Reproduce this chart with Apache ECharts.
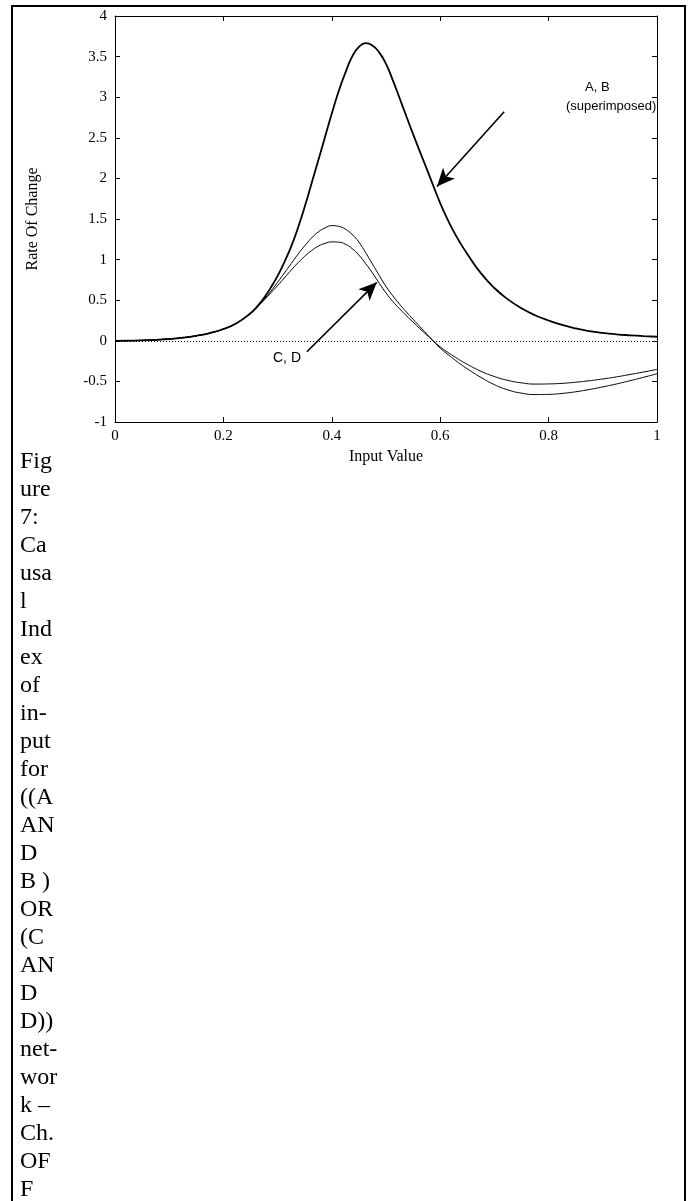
<!doctype html>
<html>
<head>
<meta charset="utf-8">
<title>Causal Index of input</title>
<script src="https://cdn.jsdelivr.net/npm/echarts@6/dist/echarts.min.js"></script>
<style>
  body { margin: 0; background: #fff; }
  #frame { position: absolute; left: 11px; top: 5px; width: 671px; height: 1300px;
           border: 2px solid #000; border-bottom: none; }
  #myChart { position: absolute; left: 0; top: 0; width: 690px; height: 480px; }
  #caption { position: absolute; left: 20px; top: 446px;
             font-family: "Liberation Serif", "Times New Roman", Times, serif;
             font-size: 24px; line-height: 28px; color: #000; }
</style>
</head>
<body>
<div id="frame"></div>
<div id="myChart"></div>
<div id="caption">Fig<br>ure<br>7:<br>Ca<br>usa<br>l<br>Ind<br>ex<br>of<br>in-<br>put<br>for<br>((A<br>AN<br>D<br>B )<br>OR<br>(C<br>AN<br>D<br>D))<br>net-<br>wor<br>k –<br>Ch.<br>OF<br>F</div>
<script>
// input values (x): coarse on the tails, finer through the peaks
var inputValues = [0, 0.025, 0.05, 0.075, 0.1, 0.125, 0.15, 0.175, 0.2, 0.225, 0.25,
  0.2625, 0.275, 0.2875, 0.3, 0.3125, 0.325, 0.3375, 0.35, 0.3625, 0.375,
  0.3875, 0.4, 0.4125, 0.425, 0.4375, 0.45, 0.4625, 0.475, 0.4875, 0.5,
  0.5125, 0.525, 0.5375, 0.55, 0.5625, 0.575, 0.5875, 0.6, 0.6125, 0.625,
  0.6375, 0.65, 0.675, 0.7, 0.725, 0.75, 0.775, 0.8, 0.825, 0.85,
  0.875, 0.9, 0.925, 0.95, 0.975, 1];

// A and B (superimposed)
var rateAB = [0, 0.001, 0.005, 0.012, 0.022, 0.038, 0.062, 0.095, 0.145, 0.22, 0.34,
  0.425, 0.53, 0.655, 0.8, 0.97, 1.16, 1.39, 1.65, 1.935, 2.22,
  2.51, 2.8, 3.07, 3.3, 3.5, 3.62, 3.665, 3.637, 3.552, 3.41,
  3.21, 2.99, 2.765, 2.545, 2.33, 2.12, 1.905, 1.695, 1.51, 1.345,
  1.2, 1.07, 0.833, 0.65, 0.51, 0.4, 0.315, 0.25, 0.195, 0.152,
  0.12, 0.097, 0.08, 0.068, 0.058, 0.05];

// C (higher peak, deeper trough)
var rateC = [0, 0.001, 0.005, 0.012, 0.022, 0.038, 0.062, 0.095, 0.145, 0.22, 0.34,
  0.42, 0.51, 0.61, 0.72, 0.835, 0.95, 1.065, 1.17, 1.265, 1.34,
  1.39, 1.418, 1.41, 1.375, 1.31, 1.215, 1.085, 0.945, 0.805, 0.67,
  0.555, 0.45, 0.355, 0.265, 0.175, 0.085, -0.005, -0.09, -0.16, -0.225,
  -0.288, -0.345, -0.45, -0.54, -0.605, -0.645, -0.662, -0.66, -0.648, -0.628,
  -0.6, -0.568, -0.532, -0.492, -0.45, -0.405];

// D
var rateD = [0, 0.001, 0.005, 0.012, 0.022, 0.038, 0.062, 0.095, 0.145, 0.22, 0.34,
  0.415, 0.5, 0.59, 0.68, 0.775, 0.87, 0.96, 1.04, 1.11, 1.165,
  1.2, 1.218, 1.215, 1.19, 1.135, 1.055, 0.95, 0.835, 0.71, 0.59,
  0.485, 0.395, 0.31, 0.23, 0.15, 0.072, -0.003, -0.075, -0.135, -0.19,
  -0.243, -0.29, -0.375, -0.44, -0.488, -0.518, -0.533, -0.531, -0.524, -0.51,
  -0.492, -0.47, -0.445, -0.415, -0.385, -0.352];

// annotation arrows [from, to] in data units
var arrowAB = [[0.718, 2.82], [0.594, 1.9]];
var arrowCD = [[0.354, -0.135], [0.483, 0.72]];

function pairs(ys) {
  return inputValues.map(function (x, i) { return [x, ys[i]]; });
}

var myChart = echarts.init(document.getElementById('myChart'));

var tickFont = { color: '#000', fontFamily: 'Liberation Serif', fontSize: 15 };
var nameFont = { color: '#000', fontFamily: 'Liberation Serif', fontSize: 16 };
var black = { color: '#000', width: 1 };

myChart.setOption({
  animation: false,
  grid: { left: 115, right: 33, top: 16, bottom: 58, containLabel: false, outerBoundsMode: 'none' },
  xAxis: [{
    type: 'value', min: 0, max: 1, interval: 0.2, position: 'bottom',
    name: 'Input Value', nameLocation: 'middle', nameGap: 14, nameTextStyle: nameFont,
    axisLine: { show: true, onZero: false, lineStyle: black },
    axisTick: { show: true, inside: true, length: 5, lineStyle: black },
    axisLabel: Object.assign({ margin: 7 }, tickFont),
    splitLine: { show: false }
  }, {
    type: 'value', min: 0, max: 1, interval: 0.2, position: 'top',
    axisLine: { show: true, onZero: false, lineStyle: black },
    axisTick: { show: true, inside: true, length: 5, lineStyle: black },
    axisLabel: { show: false },
    splitLine: { show: false }
  }],
  yAxis: [{
    type: 'value', min: -1, max: 4, interval: 0.5, position: 'left',
    name: 'Rate Of Change', nameLocation: 'middle', nameGap: 74, nameRotate: 90, nameTextStyle: nameFont,
    axisLine: { show: true, onZero: false, lineStyle: black },
    axisTick: { show: true, inside: true, length: 5, lineStyle: black },
    axisLabel: Object.assign({ margin: 8 }, tickFont),
    splitLine: { show: false }
  }, {
    type: 'value', min: -1, max: 4, interval: 0.5, position: 'right',
    axisLine: { show: true, onZero: false, lineStyle: black },
    axisTick: { show: true, inside: true, length: 5, lineStyle: black },
    axisLabel: { show: false },
    splitLine: { show: false }
  }],
  series: [
    {
      name: 'A, B', type: 'line', data: pairs(rateAB), smooth: 0.5,
      showSymbol: false, lineStyle: { color: '#000', width: 1.8 }, z: 3,
      markLine: {
        silent: true, symbol: ['none', 'arrow'], symbolSize: [12, 18],
        lineStyle: { color: '#000', width: 1.6, type: 'solid' },
        label: { show: false },
        data: [
          [{ coord: arrowAB[0] }, { coord: arrowAB[1] }],
          [{ coord: arrowCD[0] }, { coord: arrowCD[1] }]
        ]
      }
    },
    {
      name: 'C', type: 'line', data: pairs(rateC), smooth: 0.5,
      showSymbol: false, lineStyle: { color: '#000', width: 1 },
      markLine: {
        silent: true, symbol: 'none',
        lineStyle: { color: '#000', width: 1, type: [1, 2] },
        label: { show: false },
        data: [{ yAxis: 0 }]
      }
    },
    {
      name: 'D', type: 'line', data: pairs(rateD), smooth: 0.5,
      showSymbol: false, lineStyle: { color: '#000', width: 1 }
    }
  ],
  graphic: [
    { type: 'text', left: 585, top: 81, style: { text: 'A, B', font: '13px "Liberation Sans"', fill: '#000' } },
    { type: 'text', left: 566, top: 100, style: { text: '(superimposed)', font: '13px "Liberation Sans"', fill: '#000' } },
    { type: 'text', left: 273, top: 351, style: { text: 'C, D', font: '14px "Liberation Sans"', fill: '#000' } }
  ]
});
</script>
</body>
</html>
